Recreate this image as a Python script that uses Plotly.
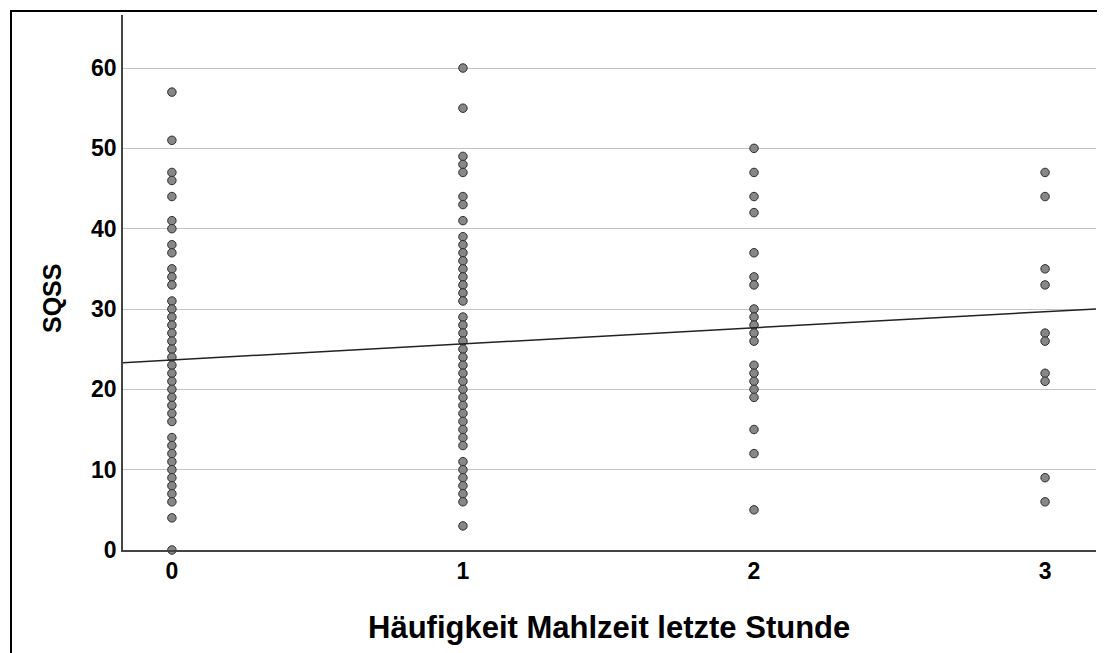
import plotly.graph_objects as go

# ---- data ----
sqss_group0 = [57, 51, 47, 46, 44, 41, 40, 38, 37, 35, 34, 33,
               31, 30, 29, 28, 27, 26, 25, 24, 23, 22, 21, 20, 19, 18, 17, 16,
               14, 13, 12, 11, 10, 9, 8, 7, 6, 4, 0]
sqss_group1 = [60, 55, 49, 48, 47, 44, 43, 41,
               39, 38, 37, 36, 35, 34, 33, 32, 31,
               29, 28, 27, 26, 25, 24, 23, 22, 21, 20, 19, 18, 17, 16, 15, 14, 13,
               11, 10, 9, 8, 7, 6, 3]
sqss_group2 = [50, 47, 44, 42, 37, 34, 33, 30, 29, 28, 27, 26,
               23, 22, 21, 20, 19, 15, 12, 5]
sqss_group3 = [47, 44, 35, 33, 27, 26, 22, 21, 9, 6]
x_categories = [0, 1, 2, 3]
y_ticks = [0, 10, 20, 30, 40, 50, 60]
fit_intercept = 23.66
fit_slope = 2.0

x_range = [-0.168, 3.175]
y_range = [0, 66.6]

groups = [sqss_group0, sqss_group1, sqss_group2, sqss_group3]
xs, ys = [], []
for cat, vals in zip(x_categories, groups):
    xs += [cat] * len(vals)
    ys += vals

fig = go.Figure()
fig.add_trace(go.Scatter(
    x=xs, y=ys, mode="markers",
    marker=dict(size=8.5, color="#878787", line=dict(color="#2e2e2e", width=1)),
    showlegend=False, hoverinfo="skip", cliponaxis=False,
))
fig.add_trace(go.Scatter(
    x=x_range,
    y=[fit_intercept + fit_slope * v for v in x_range],
    mode="lines", line=dict(color="#222222", width=1.5),
    showlegend=False, hoverinfo="skip",
))

font_family = "Liberation Sans, Arial, sans-serif"
# page body has an 8px margin: plot area in page pixels is x 123..1096, y 15..550
fig.update_layout(
    width=1097, height=645,
    margin=dict(l=115, r=9, t=7, b=103),
    paper_bgcolor="white", plot_bgcolor="white",
    font=dict(family=font_family, color="black"),
    xaxis=dict(
        range=x_range, tickvals=x_categories, ticktext=[str(c) for c in x_categories],
        showgrid=False, zeroline=False, showline=True, linecolor="#444444", linewidth=1.5,
        ticks="", tickfont=dict(size=23, family=font_family, weight="bold"),
    ),
    yaxis=dict(
        range=y_range, tickvals=y_ticks, showgrid=True, gridcolor="#c4c4c4", gridwidth=1,
        zeroline=False, showline=True, linecolor="#444444", linewidth=1.5,
        ticks="", tickfont=dict(size=23, family=font_family, weight="bold"),
    ),
    annotations=[
        dict(text="<b>Häufigkeit Mahlzeit letzte Stunde</b>", xref="paper", yref="paper",
             x=0.4995, y=-(627 - 550) / 535, xanchor="center", yanchor="middle",
             showarrow=False, font=dict(size=31, family=font_family)),
        dict(text="<b>SQSS</b>", xref="paper", yref="paper", textangle=-90,
             x=(52 - 123) / 973, y=(550 - 299) / 535, xanchor="center", yanchor="middle",
             showarrow=False, font=dict(size=25, family=font_family)),
    ],
    shapes=[
        dict(type="rect", xref="paper", yref="paper",
             x0=(11 - 123) / 973, x1=(1115 - 123) / 973,
             y0=(550 - 665) / 535, y1=(550 - 11) / 535,
             line=dict(color="black", width=2), fillcolor="rgba(0,0,0,0)", layer="below"),
    ],
)

fig.write_html("out.html")
